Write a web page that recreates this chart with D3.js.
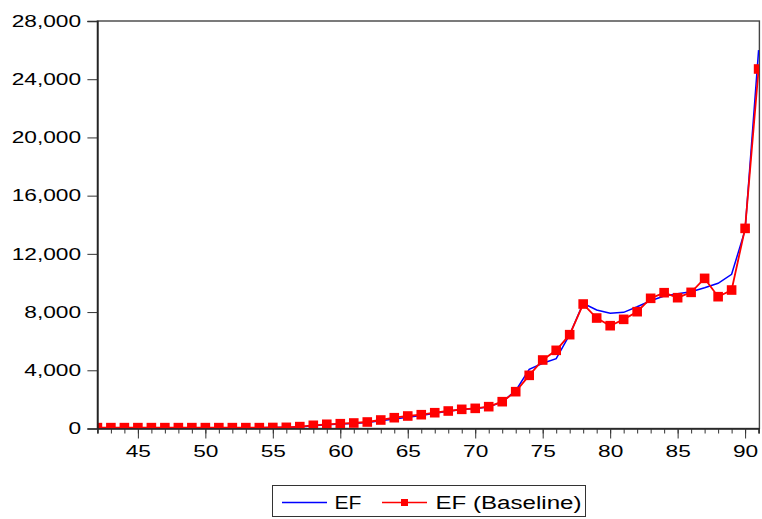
<!DOCTYPE html>
<html><head><meta charset="utf-8">
<script src="https://cdn.jsdelivr.net/npm/d3@7"></script>
<style>body{margin:0;background:#fff}svg{display:block}text{font-family:"Liberation Sans",Arial,sans-serif}</style>
</head><body>
<svg id="c" width="762" height="519"></svg>
<script>
const years = d3.range(42, 92);
const efBaseline = [60,60,60,60,60,60,60,60,60,60,60,60,60,70,80,
  130,220,290,330,378,447,584,742,859,948,1085,1202,1317,1385,1500,1843,2530,
  3653,4706,5371,6447,8553,7591,7064,7500,8026,8945,9331,8988,9355,10316,9057,9515,13751,24702];
const ef = [60,60,60,60,60,60,60,60,60,60,60,60,60,70,80,
  110,190,260,310,350,420,530,660,770,900,1050,1180,1300,1380,1480,1830,2600,
  4067,4479,4795,6444,8601,8141,7914,7983,8368,8780,9103,9261,9398,9673,9975,10593,13650,26000];
const yTicks = [0,4000,8000,12000,16000,20000,24000,28000];
const xMajor = [45,50,55,60,65,70,75,80,85,90];
const seriesNames = ["EF","EF (Baseline)"];

const svg = d3.select("#c");
const L = 97.4, R = 758.6, T = 21, B = 428.5;
const x = d3.scaleLinear().domain([42, 91]).range([L, R]);
const y = d3.scaleLinear().domain([0, 28000]).range([B, T]);
const SX = 1.42;

svg.append("clipPath").attr("id","clip").append("rect")
  .attr("x", L).attr("y", T).attr("width", R-L+0.5).attr("height", B-T);

// frame
svg.append("rect").attr("x", L).attr("y", T).attr("width", R-L+0.8).attr("height", B-T)
  .attr("fill","none").attr("stroke","#444").attr("stroke-width",1.4);

const g = svg.append("g").attr("clip-path","url(#clip)");
const lineB = d3.line().x((d,i)=>x(years[i])).y(d=>y(d));
g.append("path").datum(ef).attr("d", lineB).attr("fill","none")
  .attr("stroke","#0000ff").attr("stroke-width",1.5);
g.append("path").datum(efBaseline).attr("d", lineB).attr("fill","none")
  .attr("stroke","#ff0000").attr("stroke-width",1.8);
const ms = 9.6;
g.selectAll("rect.m").data(efBaseline).join("rect").attr("class","m")
  .attr("x",(d,i)=>x(years[i])-ms/2).attr("y",d=>y(d)-ms/2)
  .attr("width",ms).attr("height",ms).attr("fill","#ff0000");

// y axis
const ya = svg.append("g").attr("transform",`translate(${L},0)`)
  .call(d3.axisLeft(y).tickValues(yTicks).tickSize(10).tickFormat(d3.format(",")));
ya.select(".domain").attr("stroke","#222").attr("stroke-width",1.6);
ya.selectAll(".tick line").attr("stroke","#333");
ya.selectAll(".tick text").attr("font-size",16).attr("fill","#000")
  .attr("x", -16.3/SX).attr("dy","0.33em").attr("transform",`scale(${SX},1)`)
  .attr("font-family","'Liberation Sans',Arial,sans-serif");

// x axis minor
const xm = svg.append("g").attr("transform",`translate(0,${B})`)
  .call(d3.axisBottom(x).tickValues(years).tickSize(5).tickFormat(""));
xm.select(".domain").attr("stroke","#222").attr("stroke-width",1.6);
xm.selectAll(".tick line").attr("stroke","#333");
const xM = svg.append("g").attr("transform",`translate(0,${B})`)
  .call(d3.axisBottom(x).tickValues(xMajor).tickSize(10).tickFormat(d3.format("d")));
xM.select(".domain").remove();
xM.selectAll(".tick line").attr("stroke","#333");
xM.selectAll(".tick text").attr("font-size",16).attr("fill","#000")
  .attr("y",28.5).attr("dy",0).attr("transform",`scale(${SX},1)`)
  .attr("font-family","'Liberation Sans',Arial,sans-serif");

// legend
const lg = svg.append("g");
lg.append("rect").attr("x",272.5).attr("y",485.5).attr("width",313).attr("height",31)
  .attr("fill","#fff").attr("stroke","#333").attr("stroke-width",1);
lg.append("line").attr("x1",282).attr("x2",327).attr("y1",502.5).attr("y2",502.5)
  .attr("stroke","#0000ff").attr("stroke-width",1.5);
lg.append("text").attr("x",334.5).attr("y",509).attr("font-size",18)
  .attr("textLength",27).attr("lengthAdjust","spacingAndGlyphs").text(seriesNames[0]);
lg.append("line").attr("x1",382).attr("x2",427).attr("y1",502.5).attr("y2",502.5)
  .attr("stroke","#ff0000").attr("stroke-width",1.5);
lg.append("rect").attr("x",401).attr("y",499).attr("width",7).attr("height",7).attr("fill","#ff0000");
lg.append("text").attr("x",435.5).attr("y",509).attr("font-size",18)
  .attr("textLength",146).attr("lengthAdjust","spacingAndGlyphs").text(seriesNames[1]);
</script>
</body></html>
